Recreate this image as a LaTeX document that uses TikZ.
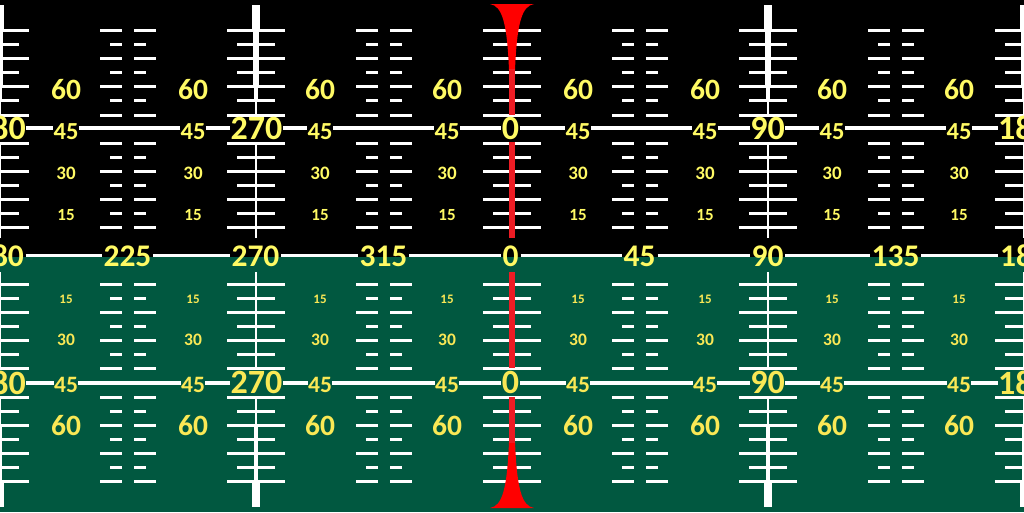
\documentclass[tikz,border=0pt]{standalone}
\usepackage{fontspec}
\setmainfont{Carlito}
\definecolor{gnd}{RGB}{1,88,64}
\definecolor{ylw}{RGB}{255,250,100}
\definecolor{ylwb}{RGB}{250,232,85}
\definecolor{redl}{RGB}{237,28,36}
\definecolor{redf}{RGB}{255,0,0}
\newcommand\lblsz[1]{\fontsize{#1}{#1}\selectfont\bfseries}
\begin{document}
\begin{tikzpicture}[x=1pt,y=-1pt,
  tk/.style={white,line width=3pt},
  hl/.style={white,line width=3.2pt},
  hzl/.style={white,line width=3.5pt},
  lab/.style={inner sep=0.5pt,outer sep=0pt,text=ylw},
  labb/.style={inner sep=0.5pt,outer sep=0pt,text=ylwb},
  bigt/.style={lab,font=\lblsz{34}},
  bigb/.style={labb,font=\lblsz{34}},
  mt/.style={lab,font=\lblsz{24.5}},
  mb/.style={labb,font=\lblsz{23.5}},
  hz/.style={inner sep=2pt,outer sep=0pt,text=ylw,font=\lblsz{31.5}}]
\useasboundingbox (0,0) rectangle (1024,512);
\begin{scope}
\clip (0,0) rectangle (1024,512);
\fill[black] (0,0) rectangle (1024,257);
\fill[gnd] (0,257) rectangle (1024,512);
% ticks at major columns
\foreach \c in {0,256,512,768,1024}{
  \foreach \a in {10,20,30,40,50,60,70,80}{
    \draw[tk] ({\c-29},{256-2.82*\a}) -- ({\c+29},{256-2.82*\a});
    \draw[tk] ({\c-29},{256+2.82*\a}) -- ({\c+29},{256+2.82*\a});
  }
  \foreach \a in {15,25,35,55,65,75}{
    \draw[tk] ({\c-19},{256-2.82*\a}) -- ({\c+19},{256-2.82*\a});
    \draw[tk] ({\c-19},{256+2.82*\a}) -- ({\c+19},{256+2.82*\a});
  }
}
% ticks at minor columns
\foreach \m in {128,384,640,896}{
  \foreach \a in {10,20,30,40,50,60,70,80}{
    \draw[tk] ({\m-28},{256-2.82*\a}) -- ({\m-6},{256-2.82*\a});
    \draw[tk] ({\m+6},{256-2.82*\a}) -- ({\m+28},{256-2.82*\a});
    \draw[tk] ({\m-28},{256+2.82*\a}) -- ({\m-6},{256+2.82*\a});
    \draw[tk] ({\m+6},{256+2.82*\a}) -- ({\m+28},{256+2.82*\a});
  }
  \foreach \a in {15,25,35,55,65,75}{
    \draw[tk] ({\m-18},{256-2.82*\a}) -- ({\m-6},{256-2.82*\a});
    \draw[tk] ({\m+6},{256-2.82*\a}) -- ({\m+18},{256-2.82*\a});
    \draw[tk] ({\m-18},{256+2.82*\a}) -- ({\m-6},{256+2.82*\a});
    \draw[tk] ({\m+6},{256+2.82*\a}) -- ({\m+18},{256+2.82*\a});
  }
}
% white vertical lines
\foreach \c in {0,256,768,1024}{
  \fill[white] ({\c-3.8},5) rectangle ({\c+3.8},30);
  \fill[white] ({\c-3.3},30) rectangle ({\c+3.3},85);
  \fill[white] ({\c-2.2},85) rectangle ({\c+2.2},100);
  \fill[white] ({\c-1.3},100) rectangle ({\c+1.3},115);
  \fill[white] ({\c-1.3},142) rectangle ({\c+1.3},238);
  \fill[white] ({\c-1.3},272) rectangle ({\c+1.3},368);
  \fill[white] ({\c-1.3},397) rectangle ({\c+1.3},425);
  \fill[white] ({\c-2.2},425) rectangle ({\c+2.2},480);
  \fill[white] ({\c-3.8},480) rectangle ({\c+3.8},507);
}
% red centre line
\fill[redf] (490,4) -- (534,4) .. controls (522,6) and (517,22) .. (515,70)
  -- (509,70) .. controls (507,22) and (502,6) .. (490,4) -- cycle;
\fill[redf] (490,508) -- (534,508) .. controls (522,506) and (517,490) .. (515,442)
  -- (509,442) .. controls (507,490) and (502,506) .. (490,508) -- cycle;
\fill[redl] (509,69) rectangle (515,115);
\fill[redl] (509,142) rectangle (515,238);
\fill[redl] (509,272) rectangle (515,368);
\fill[redl] (509,397) rectangle (515,443);
% reference ordinates
\coordinate (yT) at (0,128);
\coordinate (yH) at (0,255.5);
\coordinate (yB) at (0,383);
% labels on the upper 45 line
\foreach \x/\y/\t/\s [count=\i] in {0/128/180/bigt, 66/131.7/45/mt, 193/131.7/45/mt,
  256.5/128/270/bigt, 320/131.7/45/mt, 447/131.7/45/mt, 510.5/128/0/bigt,
  578/131.7/45/mt, 705/131.7/45/mt, 767.5/128/90/bigt, 832/131.7/45/mt,
  959/131.7/45/mt, 1024/128/180/bigt}
  \node[\s] (T\i) at (\x,\y) {\t};
% labels on the lower 45 line
\foreach \x/\y/\t/\s [count=\i] in {0/382.5/180/bigb, 66/384.5/45/mb, 193/384.5/45/mb,
  256.5/382.5/270/bigb, 320/384.5/45/mb, 447/384.5/45/mb, 510.5/382.5/0/bigb,
  578/384.5/45/mb, 705/384.5/45/mb, 767.5/382.5/90/bigb, 832/384.5/45/mb,
  959/384.5/45/mb, 1024/382.5/180/bigb}
  \node[\s] (B\i) at (\x,\y) {\t};
% horizon labels
\foreach \x/\t [count=\i] in {0/180, 127.5/225, 255.5/270, 383.5/315, 510.7/0,
  639.7/45, 767.5/90, 895.5/135, 1024/180}
  \node[hz] (H\i) at (\x,256) {\t};
% line segments between labels
\foreach \i [evaluate=\i as \j using int(\i+1)] in {1,...,12}{
  \draw[hl] (T\i.east |- yT) -- (T\j.west |- yT);
  \draw[hl] (B\i.east |- yB) -- (B\j.west |- yB);
}
\foreach \i [evaluate=\i as \j using int(\i+1)] in {1,...,8}{
  \draw[hzl] (H\i.east |- yH) -- (H\j.west |- yH);
}
% pitch labels
\foreach \x [count=\i] in {66,193,320,447,578,705,832,959}{
  \node[lab,font=\lblsz{29.5}] (u60-\i) at (\x,89.3) {60};
  \node[lab,font=\lblsz{19}] (u30-\i) at (\x,173.3) {30};
  \node[lab,font=\lblsz{17}] (u15-\i) at (\x,215.3) {15};
  \node[labb,font=\lblsz{13}] (d15-\i) at (\x,299) {15};
  \node[labb,font=\lblsz{17.5}] (d30-\i) at (\x,340.3) {30};
  \node[labb,font=\lblsz{29.5}] (d60-\i) at (\x,425.2) {60};
}
\end{scope}
\end{tikzpicture}
\end{document}
